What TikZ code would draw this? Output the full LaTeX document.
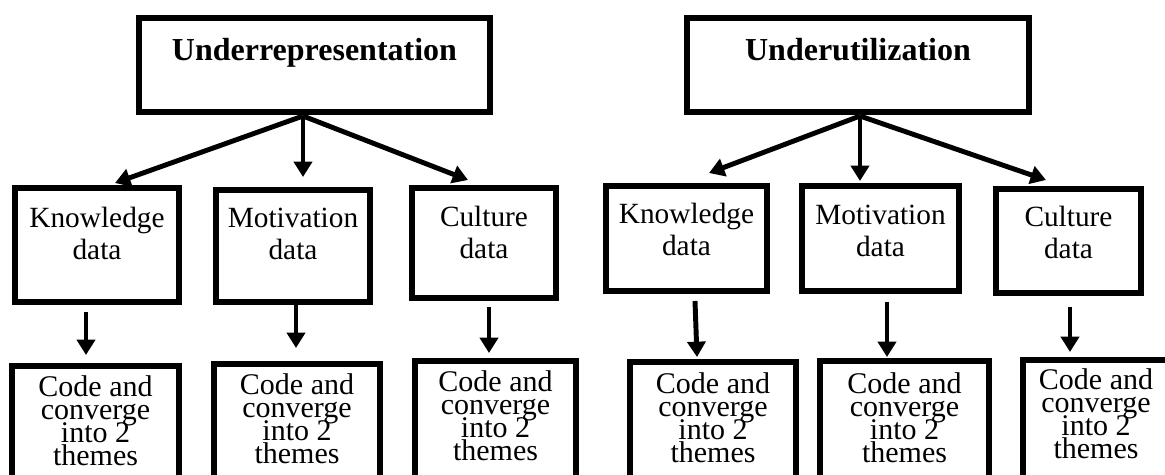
\documentclass[tikz,border=0pt]{standalone}
\usepackage{fontspec}
\setmainfont{Liberation Serif}
\usetikzlibrary{arrows.meta,fit,calc}
\lineskiplimit=-100pt
\lineskip=0pt
\begin{document}
\begin{tikzpicture}[x=0.75pt,y=-0.75pt,
  box/.style={draw, line width=4.6pt, inner sep=0pt, rectangle},
  toptxt/.style={font=\fontsize{24}{28}\selectfont\bfseries, inner sep=0pt, anchor=base},
  midtxt/.style={font=\fontsize{22}{24}\selectfont, align=center, inner sep=0pt, anchor=north},
  lowtxt/.style={font=\fontsize{22.5}{17.3}\selectfont, align=center, inner sep=0pt, anchor=north},
  arr/.style={-{Triangle[width=13.5pt,length=11.5pt]}, line width=3.7pt},
]
\useasboundingbox (0,0) rectangle (1165,475);
\clip (0,0) rectangle (1165,475);

% ---------- left group ----------
\node[box, fit={(139,18) (490,112)}] (topL) {};
\node[toptxt] (ttl) at (topL |- 0,60) {Underrepresentation};

\node[box, fit={(15,188) (179,302)}] (kl) {};
\node[box, fit={(216,190) (370,302)}] (ml) {};
\node[box, fit={(412,188) (556,298)}] (cl) {};
\node[midtxt] (tkl) at (kl |- 0,207) {Knowledge\\data};
\node[midtxt] (tml) at (ml |- 0,208) {Motivation\\data};
\node[midtxt] (tcl) at (cl |- 0,206) {Culture\\data};

\node[box, fit={(12,366) (179,500)}] (b1) {};
\node[box, fit={(214,364) (380,500)}] (b2) {};
\node[box, fit={(415,361) (576,500)}] (b3) {};
\node[lowtxt] (t1) at (b1 |- 0,375) {Code and\\converge\\into 2\\themes};
\node[lowtxt] (t2) at (b2 |- 0,373) {Code and\\converge\\into 2\\themes};
\node[lowtxt] (t3) at (b3 |- 0,370) {Code and\\converge\\into 2\\themes};

\coordinate (apL) at (303,116);
\coordinate (tipKL) at (115,183);
\coordinate (tipML) at (303,177);
\coordinate (tipCL) at (468,180);
\draw[arr] (apL) -- (tipKL);
\draw[arr] (apL) -- (tipML);
\draw[arr] (apL) -- (tipCL);

\coordinate (dKLs) at (86,312);  \coordinate (dKLe) at (86,355);
\coordinate (dMLs) at (296,305); \coordinate (dMLe) at (296,348);
\coordinate (dCLs) at (489,307); \coordinate (dCLe) at (489,353);
\draw[arr] (dKLs) -- (dKLe);
\draw[arr] (dMLs) -- (dMLe);
\draw[arr] (dCLs) -- (dCLe);

% ---------- right group ----------
\node[box, fit={(687,18) (1029,112)}] (topR) {};
\node[toptxt] (ttr) at (topR |- 0,60) {Underutilization};

\node[box, fit={(606,186) (767,291)}] (kr) {};
\node[box, fit={(802,186) (959,291)}] (mr) {};
\node[box, fit={(996,189) (1141,293)}] (cr) {};
\node[midtxt] (tkr) at (kr |- 0,203) {Knowledge\\data};
\node[midtxt] (tmr) at (mr |- 0,205) {Motivation\\data};
\node[midtxt] (tcr) at (cr |- 0,206) {Culture\\data};

\node[box, fit={(630,362) (796,500)}] (b4) {};
\node[box, fit={(820,361) (989,500)}] (b5) {};
\node[box, fit={(1023,360) (1169,500)}] (b6) {};
\node[lowtxt] (t4) at (b4 |- 0,372) {Code and\\converge\\into 2\\themes};
\node[lowtxt] (t5) at (b5 |- 0,372) {Code and\\converge\\into 2\\themes};
\node[lowtxt] (t6) at (b6 |- 0,368) {Code and\\converge\\into 2\\themes};

\coordinate (apR) at (860,116);
\coordinate (tipKR) at (709,173);
\coordinate (tipMR) at (860,181);
\coordinate (tipCR) at (1046,180);
\draw[arr] (apR) -- (tipKR);
\draw[arr] (apR) -- (tipMR);
\draw[arr] (apR) -- (tipCR);

\coordinate (dKRs) at (695,301);  \coordinate (dKRe) at (697,357);
\coordinate (dMRs) at (887,302);  \coordinate (dMRe) at (887,357);
\coordinate (dCRs) at (1070,307); \coordinate (dCRe) at (1070,352);
\draw[arr] (dKRs) -- (dKRe);
\draw[arr] (dMRs) -- (dMRe);
\draw[arr] (dCRs) -- (dCRe);
\end{tikzpicture}
\end{document}
